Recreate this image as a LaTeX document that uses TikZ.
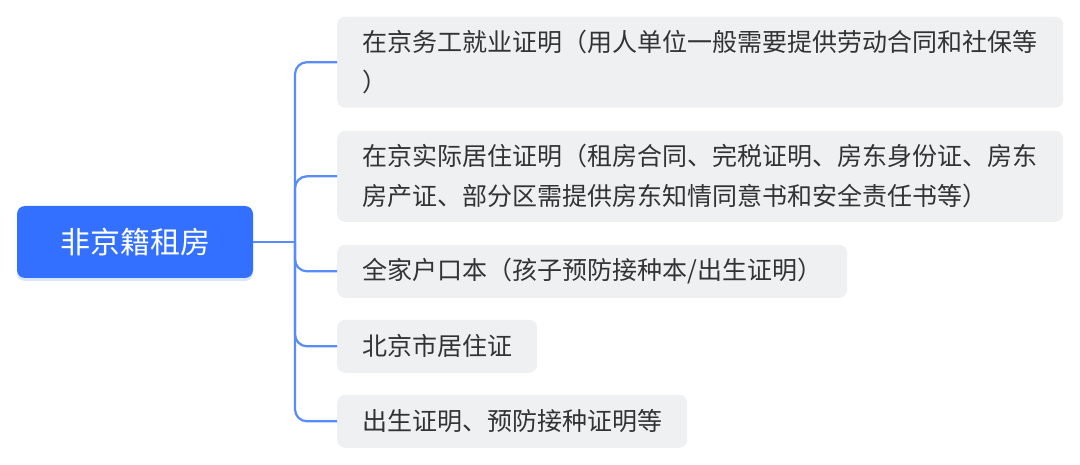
\documentclass[tikz,border=0pt]{standalone}
\usepackage{fontspec}
\newfontfamily\cjk{Noto Sans CJK SC}
\usetikzlibrary{shadows}
\definecolor{rootblue}{RGB}{51,112,255}
\definecolor{linkblue}{RGB}{88,140,250}
\definecolor{boxgray}{RGB}{239,240,242}
\definecolor{inkgray}{RGB}{51,51,51}
\begin{document}
\begin{tikzpicture}[x=1pt,y=-1pt,
  root/.style={fill=rootblue,rounded corners=8pt,text=white,
    font=\cjk\fontsize{30}{36}\selectfont,minimum width=236pt,minimum height=72pt,
    drop shadow={shadow xshift=0pt,shadow yshift=-3pt,fill=rootblue,opacity=0.18}},
  leaf/.style={fill=boxgray,rounded corners=8pt,text=inkgray,anchor=west,
    font=\cjk\fontsize{25}{40}\selectfont,align=left,inner xsep=25pt,inner ysep=4pt},
  link/.style={draw=linkblue,line width=2.2pt,rounded corners=12pt}]
\useasboundingbox (0,0) rectangle (1080,465);
\node[root] (home) at (135,242) {非京籍租房};
\node[leaf,text width=676pt,minimum height=91pt] (work) at (337,62.2)
  {在京务工就业证明（用人单位一般需要提供劳动合同和社保等\\）};
\node[leaf,text width=676pt,minimum height=91pt] (live) at (337,176.3)
  {在京实际居住证明（租房合同、完税证明、房东身份证、房东\\房产证、部分区需提供房东知情同意书和安全责任书等）};
\node[leaf,text width=460pt,minimum height=53pt] (hukou) at (337,271.3)
  {全家户口本（孩子预防接种本/出生证明）};
\node[leaf,text width=150pt,minimum height=53pt] (permit) at (337,346.3)
  {北京市居住证};
\node[leaf,text width=300pt,minimum height=53pt] (birth) at (337,421.3)
  {出生证明、预防接种证明等};
\coordinate (hub) at (295,242);
\draw[link] (home.east) -- (hub);
\foreach \leafname in {work,live,hukou,permit,birth}
  \draw[link] (hub) |- (\leafname.west);
\end{tikzpicture}
\end{document}
